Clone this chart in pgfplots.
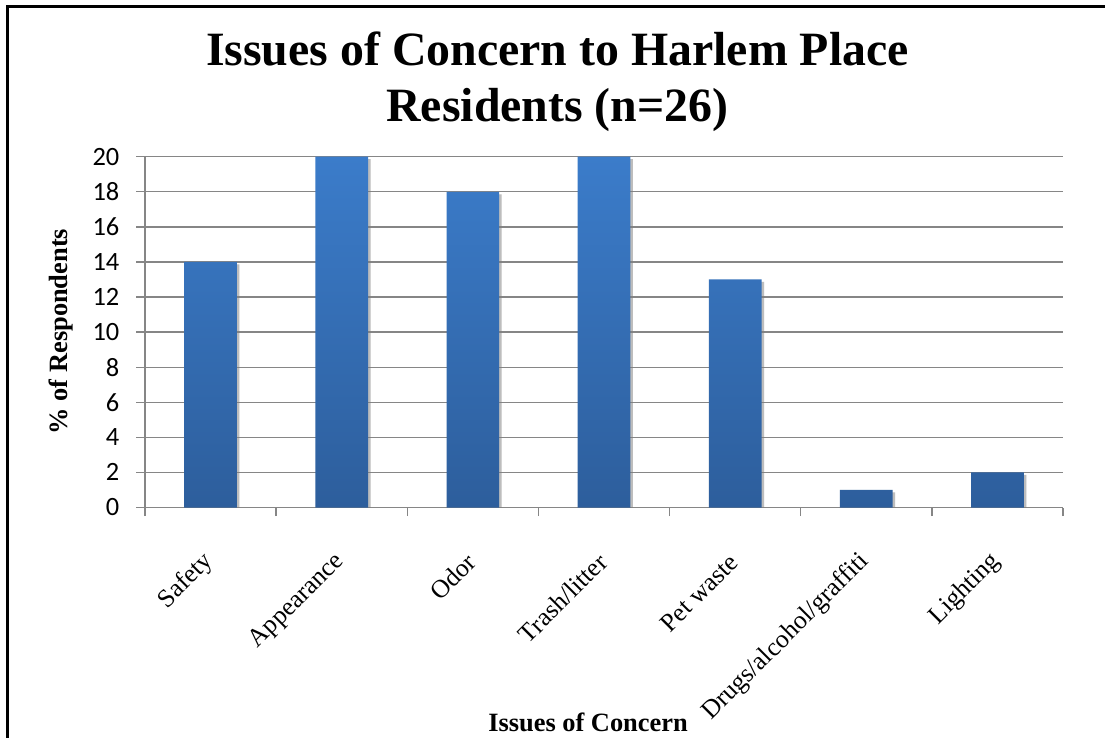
\documentclass[border=0pt]{standalone}
\usepackage{fontspec}
\setmainfont{Liberation Serif}
\newfontfamily\calibri{Carlito}
\usepackage{pgfplots}
\pgfplotsset{compat=1.18}
\usetikzlibrary{shadows}
\definecolor{bartop}{RGB}{59,124,202}
\definecolor{barbot}{RGB}{45,94,156}
\definecolor{gridgray}{RGB}{134,134,134}
\begin{document}
\begin{tikzpicture}
\useasboundingbox (0,0) rectangle (1105bp,738bp);
\fill[white] (0,0) rectangle (1105bp,738bp);
\draw[black, line width=3bp] (7.5bp,0) -- (7.5bp,731bp) -- (1105bp,731bp);
\begin{axis}[
  at={(145bp,230.5bp)}, anchor=south west,
  scale only axis, width=918bp, height=350.8bp,
  xmin=0.5, xmax=7.5, ymin=0, ymax=20,
  axis x line*=bottom, axis y line*=left,
  axis line style={gridgray, line width=1.3bp},
  ytick={0,2,...,20},
  ymajorgrids, grid style={gridgray, line width=1.3bp},
  major tick length=8.5bp,
  tick align=outside,
  tick style={gridgray, line width=1.3bp},
  xtick={0.5,1.5,...,7.5}, xticklabels={},
  extra x ticks={1,2,3,4,5,6,7},
  extra x tick labels={Safety,Appearance,Odor,Trash/litter,Pet waste,Drugs/alcohol/graffiti,Lighting},
  extra x tick style={grid=none, tick style={draw=none}},
  /pgf/number format/assume math mode=true,
  yticklabel style={font=\calibri\fontsize{26.5}{30}\selectfont, anchor=east, inner sep=0pt, xshift=-17bp},
  xticklabel style={font=\fontsize{25.8}{30}\selectfont, inner sep=0pt, xshift=-1bp, yshift=-42bp, rotate=45, anchor=east},
  title={Issues of Concern to Harlem Place\\Residents (n=26)},
  title style={font=\bfseries\fontsize{48}{56}\selectfont, align=center, at={(axis description cs:0.4493,1.0847)}, anchor=base, inner sep=0pt},
  xlabel={Issues of Concern},
  xlabel style={font=\bfseries\fontsize{26.5}{30}\selectfont, at={(axis description cs:0.4826,-0.639)}, anchor=base, inner sep=0pt},
  ylabel={\% of Respondents},
  ylabel style={font=\bfseries\fontsize{26.5}{30}\selectfont, at={(axis description cs:-0.0839,0.5017)}, anchor=base, rotate=0, inner sep=0pt},
]
\addplot[ybar, bar width=52.7bp, bar shift=0pt, draw=none, top color=bartop, bottom color=barbot,
  drop shadow={top color=gray, bottom color=gray, opacity=0.3, shadow xshift=2.5bp, shadow yshift=-2.5bp}]
  coordinates {(1,14) (2,20) (3,18) (4,20) (5,13) (6,1) (7,2)};
\end{axis}
\end{tikzpicture}
\end{document}
